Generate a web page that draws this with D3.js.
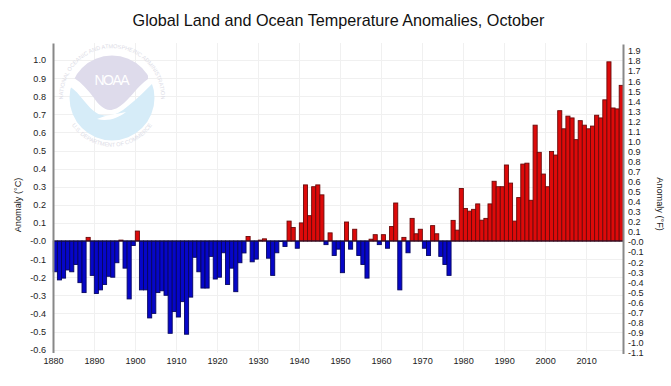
<!DOCTYPE html>
<html>
<head>
<meta charset="utf-8">
<script src="https://cdnjs.cloudflare.com/ajax/libs/d3/7.8.5/d3.min.js"></script>
<style>
  html, body { margin: 0; padding: 0; background: #fff; }
  svg { display: block; font-family: "Liberation Sans", Arial, sans-serif; }
  .axis text { font-size: 9.1px; fill: #222; }
  .axis .domain { stroke: #888; stroke-width: 2px; }
  .grid line { stroke: #f0f0f0; stroke-width: 1px; }
</style>
</head>
<body>
<svg width="671" height="386"></svg>
<script>
var firstYear = 1880;

// October anomaly in deg C, 1880 to 2018.
var anomalies = [
  -0.17, -0.215, -0.205, -0.16, -0.17, -0.13, -0.23, -0.285, 0.02, -0.19,
  -0.29, -0.27, -0.24, -0.195, -0.20, -0.12, 0.005, -0.15, -0.32, -0.025,
  0.055, -0.27, -0.27, -0.425, -0.40, -0.285, -0.275, -0.30, -0.51, -0.39,
  -0.42, -0.335, -0.515, -0.31, -0.09, -0.17, -0.26, -0.26, -0.085, -0.21,
  -0.20, -0.065, -0.24, -0.15, -0.28, -0.12, -0.066, 0.025, -0.115, -0.10,
  0.005, 0.012, -0.095, -0.19, -0.065, -0.003, -0.03, 0.11, 0.075, -0.04,
  0.10, 0.31, 0.14, 0.30, 0.31, 0.255, -0.02, 0.045, -0.08, -0.045,
  -0.175, 0.105, -0.045, 0.065, -0.08, -0.13, -0.205, 0.01, 0.035, -0.02,
  0.035, -0.04, 0.08, 0.21, -0.27, 0.02, -0.065, 0.125, 0.04, 0.065,
  -0.04, -0.08, 0.085, 0.04, -0.085, -0.13, -0.19, 0.114, 0.06, 0.29,
  0.18, 0.165, 0.175, 0.205, 0.115, 0.125, 0.205, 0.33, 0.30, 0.30,
  0.42, 0.32, 0.11, 0.24, 0.425, 0.43, 0.225, 0.64, 0.49, 0.37,
  0.30, 0.495, 0.475, 0.72, 0.62, 0.69, 0.68, 0.56, 0.665, 0.64,
  0.62, 0.635, 0.695, 0.68, 0.78, 0.99, 0.735, 0.73, 0.86
];

var yearTicks = [1880, 1890, 1900, 1910, 1920, 1930, 1940, 1950, 1960, 1970, 1980, 1990, 2000, 2010];
var celsiusTicks = [-0.6, -0.5, -0.4, -0.3, -0.2, -0.1, 0, 0.1, 0.2, 0.3, 0.4, 0.5, 0.6, 0.7, 0.8, 0.9, 1.0];
var fahrenheitTicks = [-1.1, -1.0, -0.9, -0.8, -0.7, -0.6, -0.5, -0.4, -0.3, -0.2, -0.1, 0, 0.1, 0.2, 0.3, 0.4, 0.5, 0.6, 0.7, 0.8, 0.9, 1.0, 1.1, 1.2, 1.3, 1.4, 1.5, 1.6, 1.7, 1.8, 1.9];

var left = 53, right = 623, top_ = 43, bottom = 352.5;
var yMin = -0.616, yMax = 1.094;

var svg = d3.select("svg");

var x = d3.scaleLinear().domain([firstYear, firstYear + anomalies.length]).range([left, right]);
var y = d3.scaleLinear().domain([yMin, yMax]).range([bottom, top_]);
var yF = d3.scaleLinear().domain([yMin * 1.8, yMax * 1.8]).range([bottom + 1, top_ + 1]);

function tickFormat(n) {
  return n === 0 ? "-0.0" : d3.format(".1f")(n).replace("\u2212", "-");
}

// Gridlines.
var grid = svg.append("g").attr("class", "grid");
grid.selectAll("line.h")
  .data(celsiusTicks)
  .enter().append("line")
    .attr("class", "h")
    .attr("x1", left).attr("x2", right)
    .attr("y1", function (d) { return Math.round(y(d)) + 0.5; })
    .attr("y2", function (d) { return Math.round(y(d)) + 0.5; });
grid.selectAll("line.v")
  .data(yearTicks.slice(1))
  .enter().append("line")
    .attr("class", "v")
    .attr("y1", top_).attr("y2", bottom)
    .attr("x1", function (d) { return Math.round(x(d)) + 0.5; })
    .attr("x2", function (d) { return Math.round(x(d)) + 0.5; });

// NOAA watermark.
var logo = svg.append("g").attr("transform", "translate(112,98)");
var defs = svg.append("defs");
defs.append("path").attr("id", "ringTop").attr("d", "M-46,16 A49,49 0 1 1 46,16");
defs.append("path").attr("id", "ringBottom").attr("d", "M-43,22 A48,48 0 0 0 43,22");
defs.append("clipPath").attr("id", "logoClip").append("circle").attr("r", 42.5);

var disc = logo.append("g").attr("clip-path", "url(#logoClip)");
disc.append("path")
  .attr("fill", "#d6ecf8")
  .attr("d", "M-44,-12 C-32,-8 -24,14 -10,17 C0,19 8,15 16,8 C26,0 34,-8 44,-18 L44,44 L-44,44 Z");
disc.append("path")
  .attr("fill", "#dedbeb")
  .attr("d", "M-38,-20 L-38,-44 L36,-44 L36,-19 C26,-12 20,-2 12,5 C6,10 2,12 -2,12 C-8,12 -14,6 -18,0 C-24,-8 -30,-15 -38,-20 Z");
disc.append("path")
  .attr("fill", "#fff")
  .attr("d", "M-15,21 C-6,17 4,16 14,14 C6,20 -4,24 -15,21 Z");
logo.append("text")
  .attr("x", 0).attr("y", -13)
  .attr("text-anchor", "middle")
  .attr("fill", "#fff")
  .attr("font-size", 14)
  .attr("textLength", 35)
  .text("NOAA");
logo.append("text")
  .attr("fill", "#dcdce6").attr("font-size", 5.6)
  .append("textPath").attr("href", "#ringTop").attr("startOffset", "50%").attr("text-anchor", "middle")
  .text("NATIONAL OCEANIC AND ATMOSPHERIC ADMINISTRATION");
logo.append("text")
  .attr("fill", "#dcdce6").attr("font-size", 5.6)
  .append("textPath").attr("href", "#ringBottom").attr("startOffset", "50%").attr("text-anchor", "middle")
  .text("U.S. DEPARTMENT OF COMMERCE");

// Bars, one year wide, starting on their year.
svg.append("g").selectAll("rect")
  .data(anomalies)
  .enter().append("rect")
    .attr("x", function (d, i) { return x(firstYear + i) + 0.3; })
    .attr("width", function (d, i) { return x(firstYear + i + 1) - x(firstYear + i); })
    .attr("y", function (d) { return y(Math.max(d, 0)); })
    .attr("height", function (d) { return Math.abs(y(d) - y(0)); })
    .attr("fill", function (d) { return d >= 0 ? "#dd0a0a" : "#0606c8"; })
    .attr("stroke", function (d) { return d >= 0 ? "#6a0a0a" : "#06065f"; })
    .attr("stroke-width", 0.9);

// Zero line.
svg.append("line")
  .attr("x1", left).attr("x2", right)
  .attr("y1", y(0)).attr("y2", y(0))
  .attr("stroke", "#1a1030").attr("stroke-width", 1);

// Axes.
svg.append("g").attr("class", "axis")
  .attr("transform", "translate(" + left + ",0)")
  .call(d3.axisLeft(y).tickValues(celsiusTicks).tickSize(0).tickPadding(7).tickFormat(tickFormat));
svg.append("g").attr("class", "axis")
  .attr("transform", "translate(" + right + ",0)")
  .call(d3.axisRight(yF).tickValues(fahrenheitTicks).tickSize(0).tickPadding(5).tickFormat(tickFormat));
var xAxisG = svg.append("g").attr("class", "axis")
  .attr("transform", "translate(0," + bottom + ")")
  .call(d3.axisBottom(x).tickValues(yearTicks).tickSize(0).tickPadding(5).tickFormat(d3.format("d")));
xAxisG.select(".domain").remove();

// Titles.
svg.append("text")
  .attr("x", 338.5).attr("y", 26)
  .attr("text-anchor", "middle")
  .attr("font-size", 16.2)
  .attr("fill", "#111")
  .text("Global Land and Ocean Temperature Anomalies, October");
svg.append("text")
  .attr("transform", "translate(21,205) rotate(-90)")
  .attr("text-anchor", "middle")
  .attr("font-size", 9.2)
  .attr("fill", "#222")
  .text("Anomaly (\u00B0C)");
svg.append("text")
  .attr("transform", "translate(657,204) rotate(90)")
  .attr("text-anchor", "middle")
  .attr("font-size", 9.2)
  .attr("fill", "#222")
  .text("Anomaly (\u00B0F)");
</script>
</body>
</html>
